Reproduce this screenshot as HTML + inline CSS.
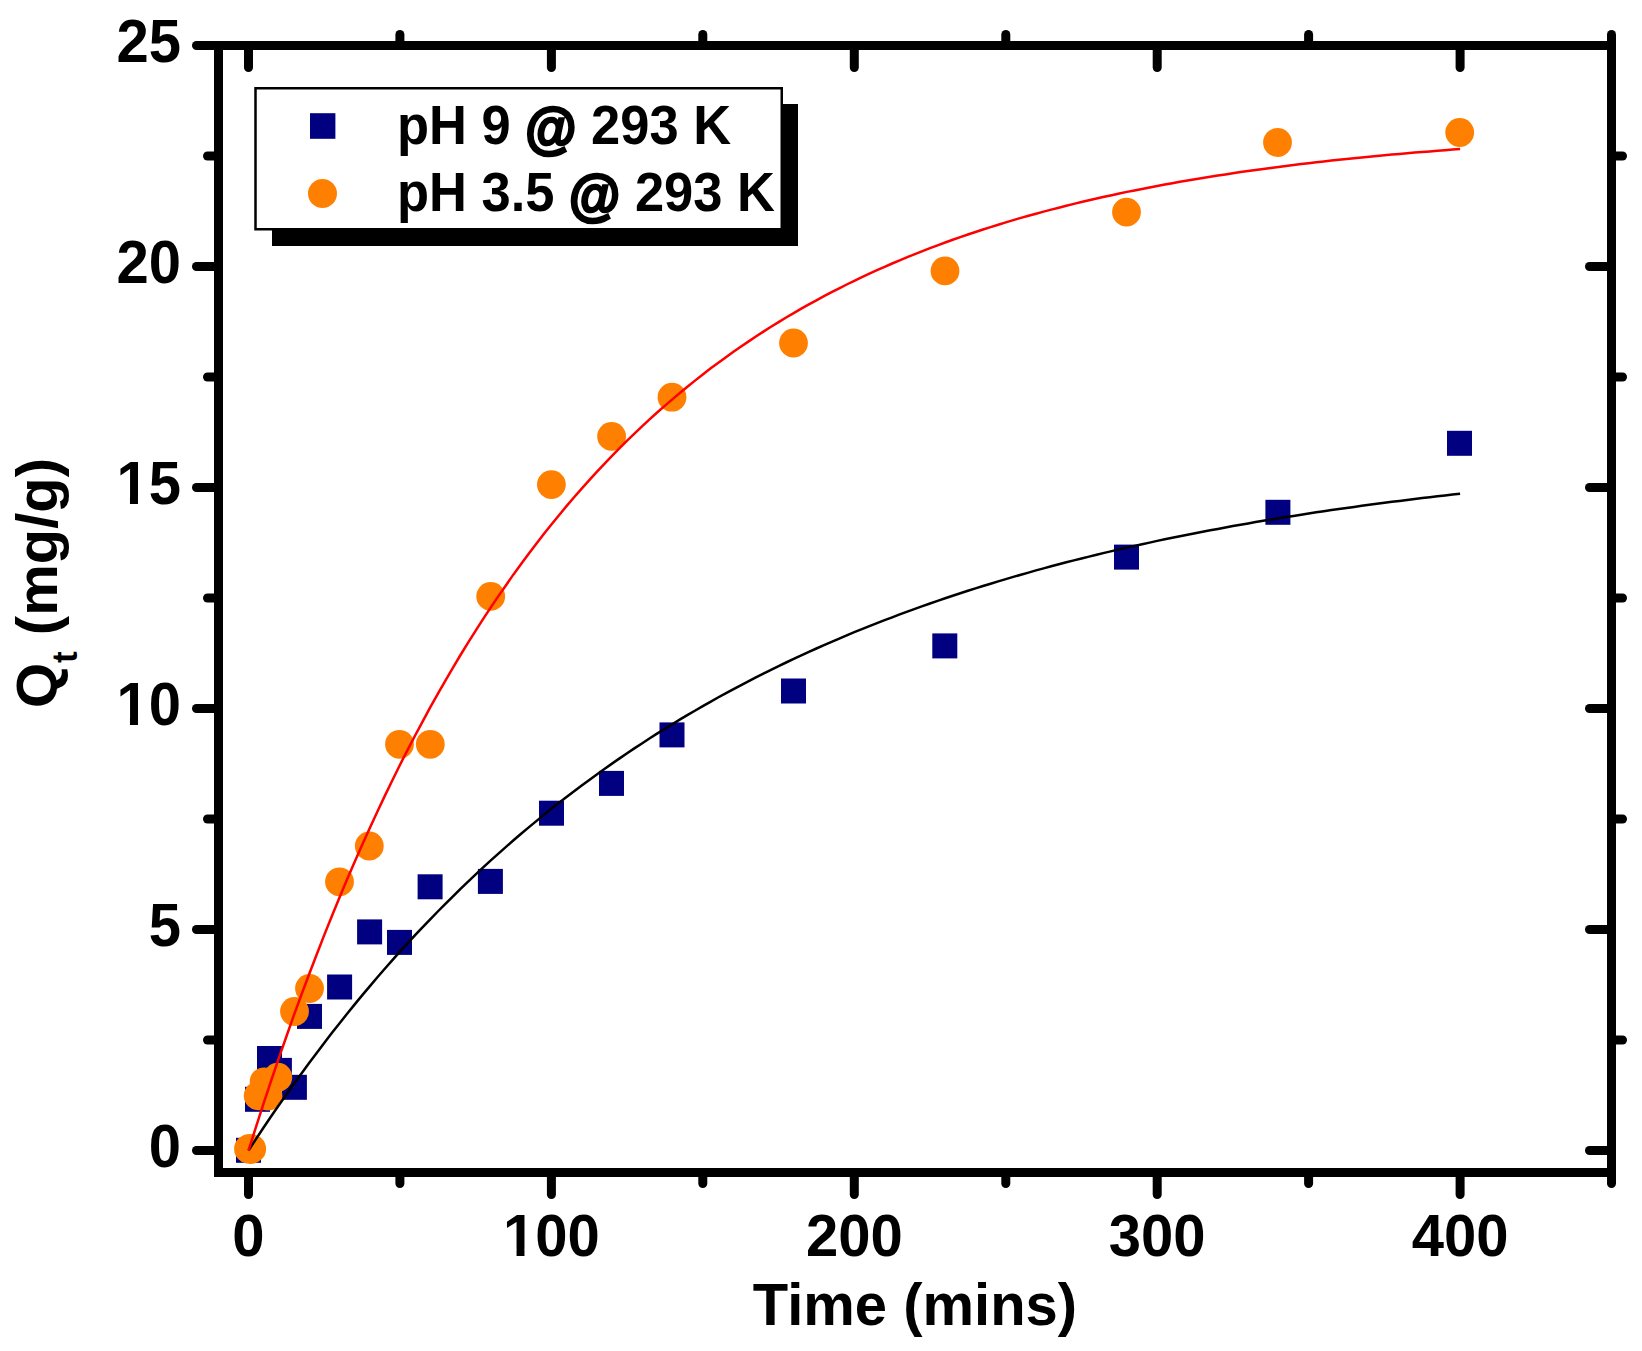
<!DOCTYPE html>
<html lang="en"><head><meta charset="utf-8"><title>Adsorption kinetics</title>
<style>html,body{margin:0;padding:0;background:#fff}body{width:1642px;height:1351px;overflow:hidden}</style></head>
<body>
<svg width="1642" height="1351" viewBox="0 0 1642 1351" style="display:block">
<rect width="1642" height="1351" fill="#fff"/>
<g fill="#000080">
<rect x="236.0" y="1137.8" width="25" height="25"/>
<rect x="245.0" y="1086.8" width="25" height="25"/>
<rect x="257.0" y="1046.0" width="25" height="25"/>
<rect x="266.9" y="1057.9" width="25" height="25"/>
<rect x="281.9" y="1074.8" width="25" height="25"/>
<rect x="297.0" y="1003.9" width="25" height="25"/>
<rect x="327.1" y="974.5" width="25" height="25"/>
<rect x="357.1" y="919.4" width="25" height="25"/>
<rect x="387.0" y="929.9" width="25" height="25"/>
<rect x="417.6" y="874.3" width="25" height="25"/>
<rect x="477.9" y="868.9" width="25" height="25"/>
<rect x="539.0" y="800.7" width="25" height="25"/>
<rect x="599.0" y="770.9" width="25" height="25"/>
<rect x="659.5" y="722.4" width="25" height="25"/>
<rect x="781.0" y="678.5" width="25" height="25"/>
<rect x="932.3" y="633.4" width="25" height="25"/>
<rect x="1114.0" y="544.6" width="25" height="25"/>
<rect x="1265.4" y="499.8" width="25" height="25"/>
<rect x="1447.0" y="430.8" width="25" height="25"/>
</g>
<g fill="#FF8000">
<ellipse cx="250.1" cy="1148.9" rx="16" ry="15"/>
<circle cx="258.2" cy="1095.8" r="14.4"/>
<circle cx="264.1" cy="1081.8" r="14.4"/>
<circle cx="268.0" cy="1096.0" r="14.4"/>
<circle cx="277.8" cy="1077.2" r="14.4"/>
<circle cx="294.5" cy="1011.5" r="14.4"/>
<circle cx="309.5" cy="988.5" r="14.4"/>
<circle cx="339.5" cy="881.8" r="14.4"/>
<circle cx="369.3" cy="846.0" r="14.4"/>
<circle cx="399.5" cy="744.3" r="14.4"/>
<circle cx="430.3" cy="744.3" r="14.4"/>
<circle cx="490.7" cy="596.4" r="14.4"/>
<circle cx="551.4" cy="484.6" r="14.4"/>
<circle cx="611.6" cy="436.4" r="14.4"/>
<circle cx="672.0" cy="397.2" r="14.4"/>
<circle cx="793.5" cy="343.0" r="14.4"/>
<circle cx="945.0" cy="270.9" r="14.4"/>
<circle cx="1126.5" cy="212.1" r="14.4"/>
<circle cx="1277.5" cy="142.5" r="14.4"/>
<circle cx="1459.7" cy="132.5" r="14.4"/>
</g>
<polyline points="248.5,1150.5 256.1,1138.9 263.6,1127.5 271.2,1116.3 278.8,1105.3 286.4,1094.5 293.9,1083.8 301.5,1073.4 309.1,1063.0 316.7,1052.9 324.2,1042.9 331.8,1033.1 339.4,1023.5 346.9,1014.0 354.5,1004.6 362.1,995.4 369.7,986.4 377.2,977.5 384.8,968.8 392.4,960.2 399.9,951.7 407.5,943.4 415.1,935.2 422.7,927.2 430.2,919.3 437.8,911.5 445.4,903.8 453.0,896.3 460.5,888.9 468.1,881.6 475.7,874.4 483.2,867.3 490.8,860.4 498.4,853.6 506.0,846.9 513.5,840.3 521.1,833.8 528.7,827.4 536.3,821.1 543.8,814.9 551.4,808.8 559.0,802.8 566.5,797.0 574.1,791.2 581.7,785.5 589.3,779.9 596.8,774.4 604.4,768.9 612.0,763.6 619.6,758.4 627.1,753.2 634.7,748.1 642.3,743.2 649.8,738.3 657.4,733.4 665.0,728.7 672.6,724.0 680.1,719.4 687.7,714.9 695.3,710.5 702.8,706.1 710.4,701.8 718.0,697.5 725.6,693.4 733.1,689.3 740.7,685.3 748.3,681.3 755.9,677.4 763.4,673.6 771.0,669.8 778.6,666.1 786.1,662.5 793.7,658.9 801.3,655.3 808.9,651.9 816.4,648.5 824.0,645.1 831.6,641.8 839.2,638.6 846.7,635.4 854.3,632.2 861.9,629.1 869.4,626.1 877.0,623.1 884.6,620.2 892.2,617.3 899.7,614.4 907.3,611.6 914.9,608.9 922.5,606.1 930.0,603.5 937.6,600.9 945.2,598.3 952.7,595.7 960.3,593.3 967.9,590.8 975.5,588.4 983.0,586.0 990.6,583.7 998.2,581.4 1005.8,579.1 1013.3,576.9 1020.9,574.7 1028.5,572.6 1036.0,570.4 1043.6,568.4 1051.2,566.3 1058.8,564.3 1066.3,562.3 1073.9,560.4 1081.5,558.5 1089.0,556.6 1096.6,554.7 1104.2,552.9 1111.8,551.1 1119.3,549.3 1126.9,547.6 1134.5,545.9 1142.1,544.2 1149.6,542.6 1157.2,540.9 1164.8,539.3 1172.3,537.8 1179.9,536.2 1187.5,534.7 1195.1,533.2 1202.6,531.7 1210.2,530.3 1217.8,528.9 1225.4,527.5 1232.9,526.1 1240.5,524.7 1248.1,523.4 1255.6,522.1 1263.2,520.8 1270.8,519.5 1278.4,518.3 1285.9,517.1 1293.5,515.9 1301.1,514.7 1308.6,513.5 1316.2,512.3 1323.8,511.2 1331.4,510.1 1338.9,509.0 1346.5,507.9 1354.1,506.9 1361.7,505.8 1369.2,504.8 1376.8,503.8 1384.4,502.8 1391.9,501.8 1399.5,500.9 1407.1,499.9 1414.7,499.0 1422.2,498.1 1429.8,497.2 1437.4,496.3 1445.0,495.5 1452.5,494.6 1460.1,493.8" fill="none" stroke="#000" stroke-width="2.5" stroke-linejoin="round"/>
<polyline points="248.5,1150.5 256.1,1126.6 263.6,1103.3 271.2,1080.5 278.8,1058.2 286.4,1036.5 293.9,1015.2 301.5,994.5 309.1,974.2 316.7,954.5 324.2,935.1 331.8,916.3 339.4,897.8 346.9,879.8 354.5,862.2 362.1,845.1 369.7,828.3 377.2,811.9 384.8,795.9 392.4,780.3 399.9,765.0 407.5,750.1 415.1,735.5 422.7,721.3 430.2,707.4 437.8,693.9 445.4,680.6 453.0,667.7 460.5,655.0 468.1,642.7 475.7,630.6 483.2,618.9 490.8,607.4 498.4,596.1 506.0,585.2 513.5,574.4 521.1,564.0 528.7,553.8 536.3,543.8 543.8,534.0 551.4,524.5 559.0,515.2 566.5,506.1 574.1,497.2 581.7,488.6 589.3,480.1 596.8,471.8 604.4,463.8 612.0,455.9 619.6,448.2 627.1,440.7 634.7,433.3 642.3,426.1 649.8,419.1 657.4,412.3 665.0,405.6 672.6,399.1 680.1,392.7 687.7,386.5 695.3,380.4 702.8,374.4 710.4,368.6 718.0,363.0 725.6,357.4 733.1,352.0 740.7,346.7 748.3,341.6 755.9,336.5 763.4,331.6 771.0,326.8 778.6,322.1 786.1,317.5 793.7,313.1 801.3,308.7 808.9,304.4 816.4,300.3 824.0,296.2 831.6,292.2 839.2,288.3 846.7,284.5 854.3,280.8 861.9,277.2 869.4,273.7 877.0,270.2 884.6,266.8 892.2,263.5 899.7,260.3 907.3,257.2 914.9,254.1 922.5,251.1 930.0,248.2 937.6,245.3 945.2,242.5 952.7,239.8 960.3,237.1 967.9,234.5 975.5,232.0 983.0,229.5 990.6,227.1 998.2,224.7 1005.8,222.4 1013.3,220.1 1020.9,217.9 1028.5,215.8 1036.0,213.7 1043.6,211.6 1051.2,209.6 1058.8,207.7 1066.3,205.7 1073.9,203.9 1081.5,202.0 1089.0,200.3 1096.6,198.5 1104.2,196.8 1111.8,195.2 1119.3,193.5 1126.9,191.9 1134.5,190.4 1142.1,188.9 1149.6,187.4 1157.2,186.0 1164.8,184.6 1172.3,183.2 1179.9,181.8 1187.5,180.5 1195.1,179.2 1202.6,178.0 1210.2,176.8 1217.8,175.6 1225.4,174.4 1232.9,173.3 1240.5,172.1 1248.1,171.1 1255.6,170.0 1263.2,169.0 1270.8,167.9 1278.4,167.0 1285.9,166.0 1293.5,165.0 1301.1,164.1 1308.6,163.2 1316.2,162.3 1323.8,161.5 1331.4,160.6 1338.9,159.8 1346.5,159.0 1354.1,158.2 1361.7,157.5 1369.2,156.7 1376.8,156.0 1384.4,155.3 1391.9,154.6 1399.5,153.9 1407.1,153.3 1414.7,152.6 1422.2,152.0 1429.8,151.4 1437.4,150.8 1445.0,150.2 1452.5,149.6 1460.1,149.0" fill="none" stroke="#f00" stroke-width="2.5" stroke-linejoin="round"/>
<g stroke="#000" stroke-width="9" fill="none" stroke-linecap="round">
<path d="M218.5 45.5V1172.5H1611.5V45.5Z" stroke-linejoin="miter" stroke-linecap="butt"/>
<path d="M248.5 1174.0V1194.5"/>
<path d="M248.5 47.0V67.5"/>
<path d="M399.9 1174.0V1183.5"/>
<path d="M399.9 44.0V34.5"/>
<path d="M551.4 1174.0V1194.5"/>
<path d="M551.4 47.0V67.5"/>
<path d="M702.8 1174.0V1183.5"/>
<path d="M702.8 44.0V34.5"/>
<path d="M854.3 1174.0V1194.5"/>
<path d="M854.3 47.0V67.5"/>
<path d="M1005.8 1174.0V1183.5"/>
<path d="M1005.8 44.0V34.5"/>
<path d="M1157.2 1174.0V1194.5"/>
<path d="M1157.2 47.0V67.5"/>
<path d="M1308.6 1174.0V1183.5"/>
<path d="M1308.6 44.0V34.5"/>
<path d="M1460.1 1174.0V1194.5"/>
<path d="M1460.1 47.0V67.5"/>
<path d="M1611.5 1174.0V1183.5"/>
<path d="M1611.5 44.0V34.5"/>
<path d="M217.0 1150.5H196.5"/>
<path d="M1610.0 1150.5H1589.5"/>
<path d="M217.0 1040.0H207.5"/>
<path d="M1613.0 1040.0H1622.5"/>
<path d="M217.0 929.5H196.5"/>
<path d="M1610.0 929.5H1589.5"/>
<path d="M217.0 819.0H207.5"/>
<path d="M1613.0 819.0H1622.5"/>
<path d="M217.0 708.5H196.5"/>
<path d="M1610.0 708.5H1589.5"/>
<path d="M217.0 598.0H207.5"/>
<path d="M1613.0 598.0H1622.5"/>
<path d="M217.0 487.5H196.5"/>
<path d="M1610.0 487.5H1589.5"/>
<path d="M217.0 377.0H207.5"/>
<path d="M1613.0 377.0H1622.5"/>
<path d="M217.0 266.5H196.5"/>
<path d="M1610.0 266.5H1589.5"/>
<path d="M217.0 156.0H207.5"/>
<path d="M1613.0 156.0H1622.5"/>
<path d="M217.0 45.5H196.5"/>
<path d="M1610.0 45.5H1589.5"/>
</g>
<g font-family="'Liberation Sans', Arial, sans-serif" font-weight="bold" fill="#000" font-size="58">
<text transform="translate(248.5 1256.3) scale(1 1.03)" text-anchor="middle">0</text>
<text transform="translate(551.4 1256.3) scale(1 1.03)" text-anchor="middle">100</text>
<text transform="translate(854.3 1256.3) scale(1 1.03)" text-anchor="middle">200</text>
<text transform="translate(1157.2 1256.3) scale(1 1.03)" text-anchor="middle">300</text>
<text transform="translate(1460.1 1256.3) scale(1 1.03)" text-anchor="middle">400</text>
<text transform="translate(181 1167.3) scale(1 1.04)" text-anchor="end">0</text>
<text transform="translate(181 946.3) scale(1 1.04)" text-anchor="end">5</text>
<text transform="translate(181 725.3) scale(1 1.04)" text-anchor="end">10</text>
<text transform="translate(181 504.3) scale(1 1.04)" text-anchor="end">15</text>
<text transform="translate(181 283.3) scale(1 1.04)" text-anchor="end">20</text>
<text transform="translate(181 62.3) scale(1 1.04)" text-anchor="end">25</text>
<text transform="translate(915 1324.6) scale(1 1.015)" text-anchor="middle">Time (mins)</text>
<text transform="translate(56.6 583) rotate(-90)" text-anchor="middle">Q<tspan font-size="35" dy="20">t</tspan><tspan dy="-20"> (mg/g)</tspan></text>
</g>
<g fill="#fff">
<rect x="505.5" y="1249.4" width="11.04" height="7.80"/>
<rect x="524.47" y="1249.4" width="10.13" height="7.80"/>
<rect x="118.8" y="718.0" width="11.16" height="8.30"/>
<rect x="137.98" y="718.0" width="10.22" height="8.30"/>
<rect x="118.8" y="497.0" width="11.16" height="8.30"/>
<rect x="137.98" y="497.0" width="10.22" height="8.30"/>
</g>
<rect x="272" y="104" width="526" height="142" fill="#000"/>
<rect x="255.5" y="88.25" width="526.25" height="141" fill="#fff" stroke="#000" stroke-width="2.5"/>
<rect x="310" y="113.2" width="25.4" height="25.6" fill="#000080"/>
<circle cx="322.5" cy="193.5" r="14.5" fill="#FF8000"/>
<g font-family="'Liberation Sans', Arial, sans-serif" font-weight="bold" fill="#000" font-size="52.5">
<text transform="translate(397 144) scale(1 1.055)">pH 9 <tspan stroke="#000" stroke-width="2.6" dy="2.5">@</tspan><tspan dy="-2.5"> 293 K</tspan></text>
<text transform="translate(397 211) scale(1 1.055)">pH 3.5 <tspan stroke="#000" stroke-width="2.6" dy="2.5">@</tspan><tspan dy="-2.5"> 293 K</tspan></text>
</g>
</svg>
</body></html>
